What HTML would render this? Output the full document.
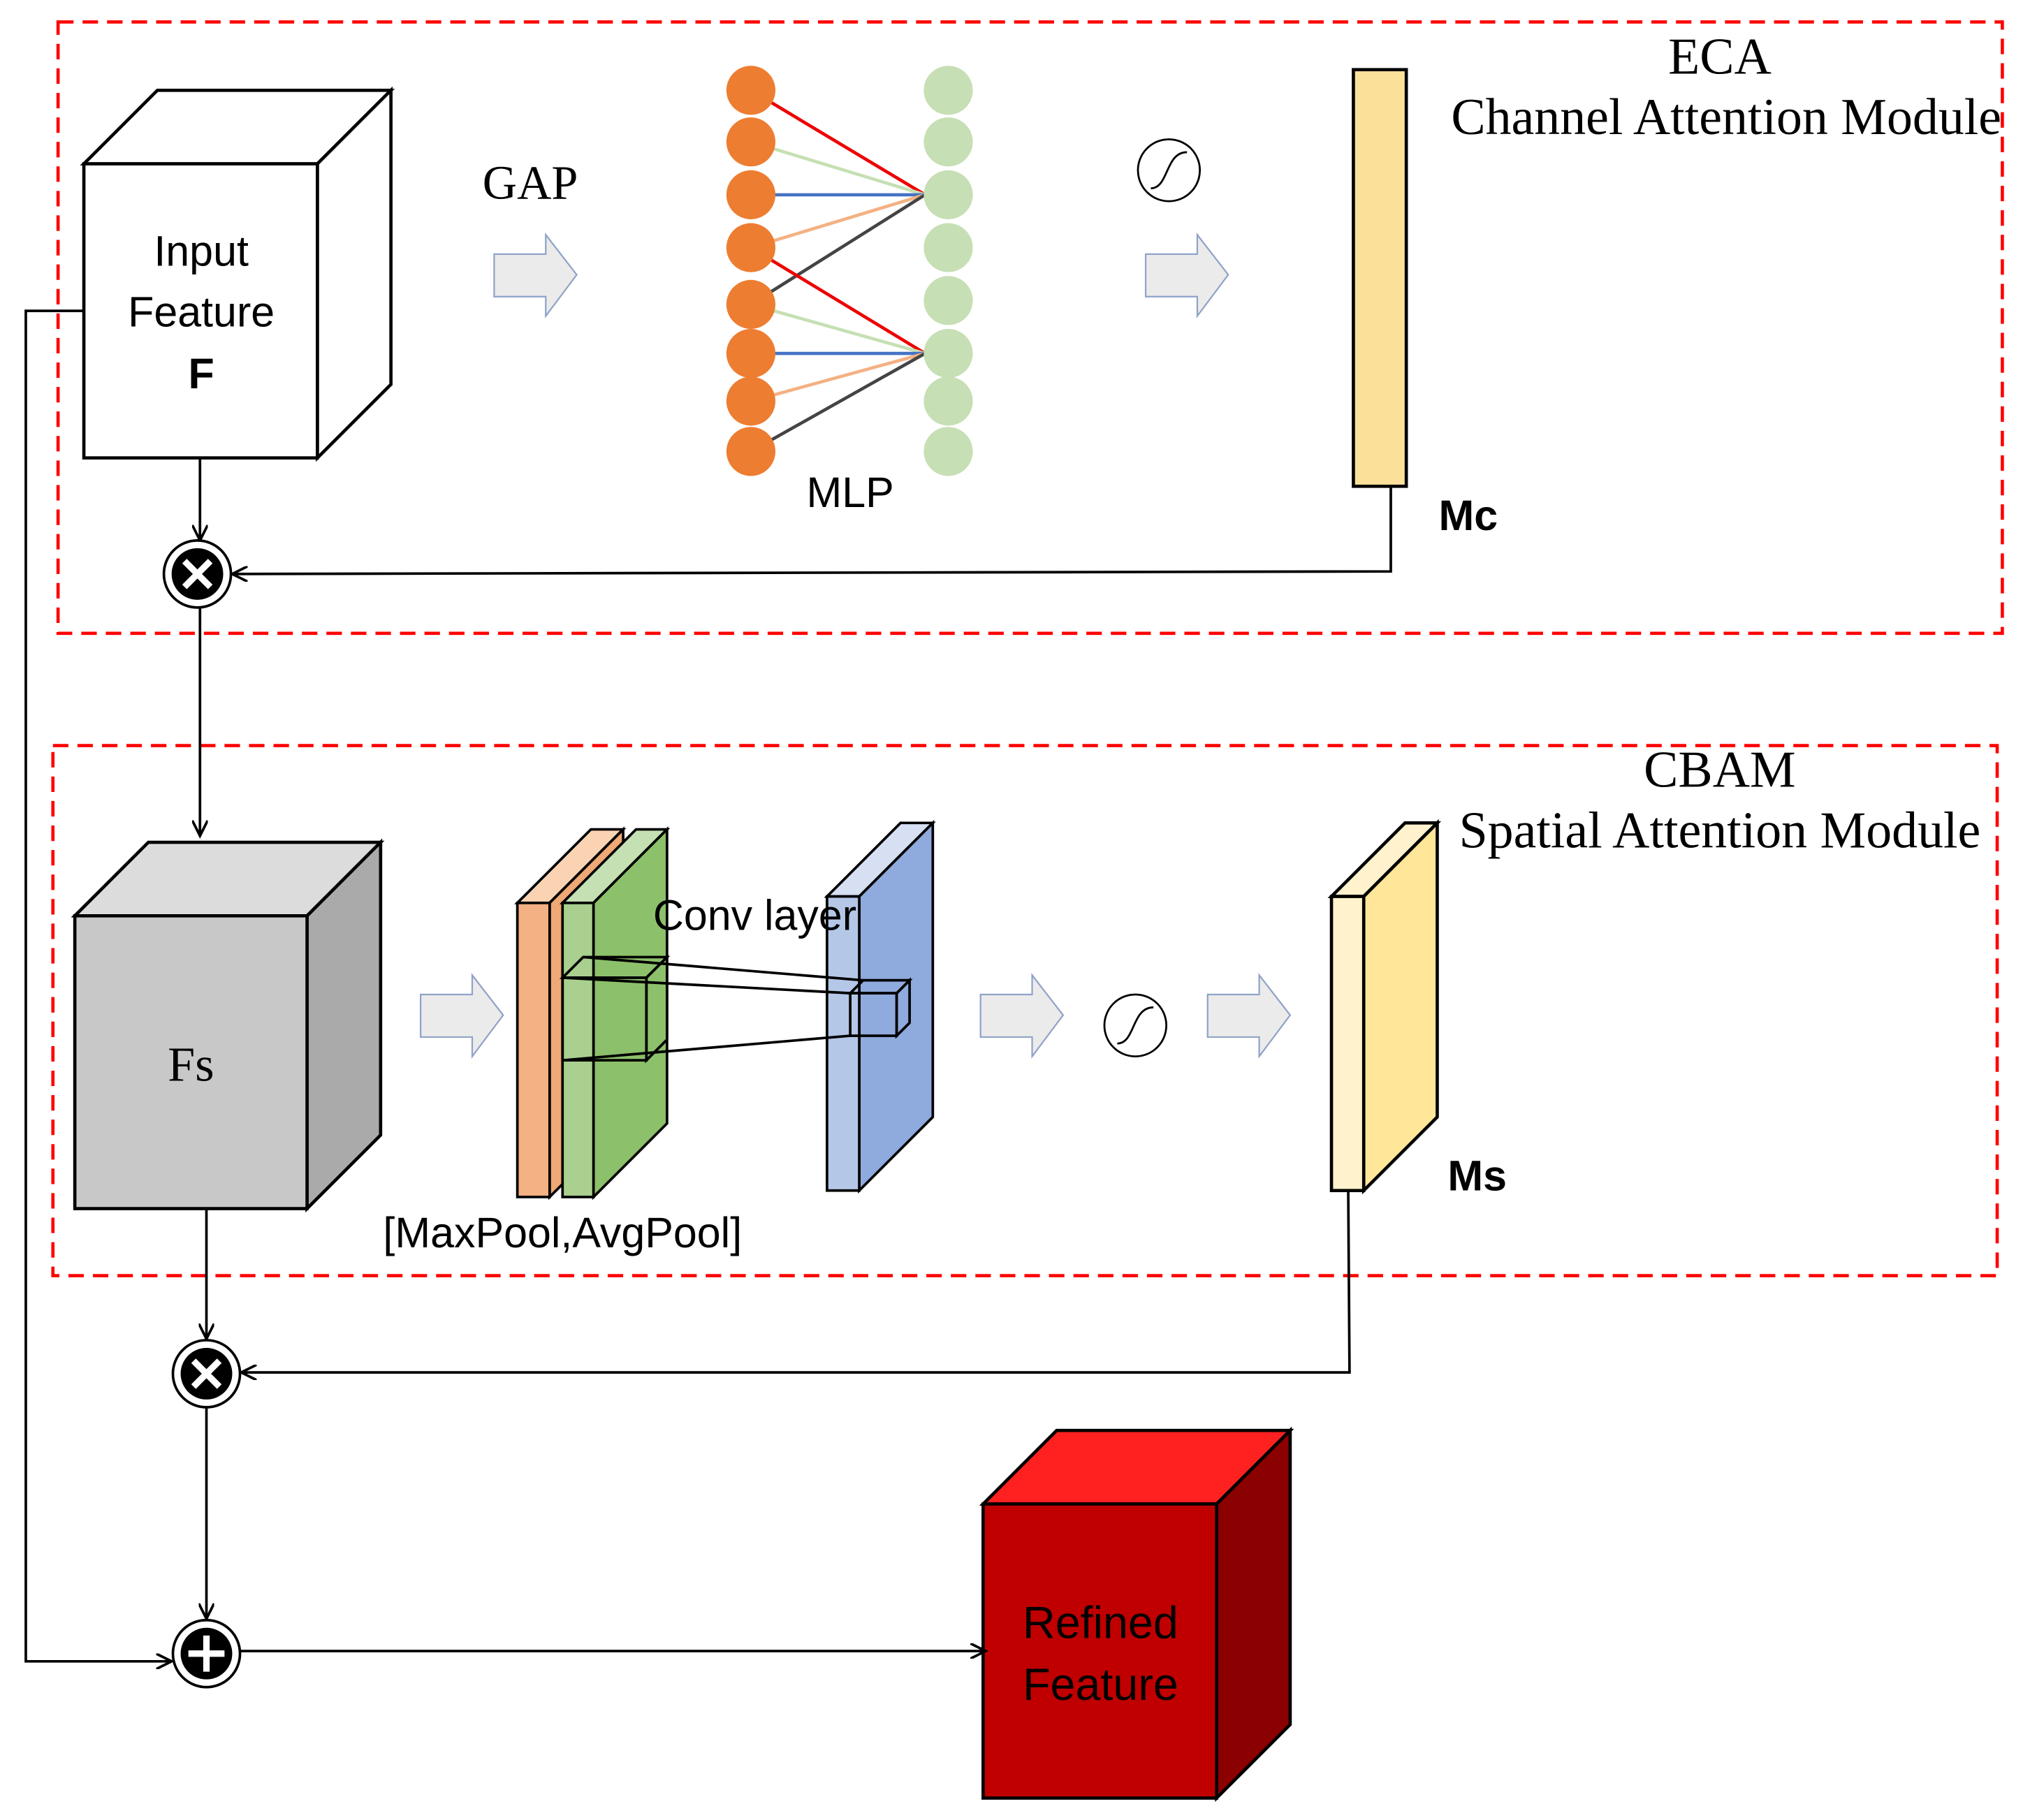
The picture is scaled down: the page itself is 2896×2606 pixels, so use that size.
<!DOCTYPE html>
<html><head><meta charset="utf-8"><style>html,body{margin:0;padding:0;background:#fff}svg{display:block}</style></head>
<body>
<svg width="2896" height="2606" viewBox="0 0 1568 1411" xmlns="http://www.w3.org/2000/svg">
<defs>
<marker id="ah" markerWidth="14" markerHeight="12" refX="12" refY="6" orient="auto" markerUnits="userSpaceOnUse">
<path d="M0,0 L12,6 L0,12" fill="none" stroke="#000" stroke-width="2"/></marker>
<g id="barrow"><path d="M0,15 H40 V0 L64,31 L40,63 V48 H0 Z" fill="#ebebeb" stroke="#8fa3c8" stroke-width="1.2"/></g>
</defs>
<rect width="1568" height="1411" fill="#fff"/>
<rect x="45" y="17" width="1507" height="474" fill="none" stroke="#f00" stroke-width="2.5" stroke-dasharray="12,7"/>
<rect x="41" y="578" width="1507" height="411" fill="none" stroke="#f00" stroke-width="2.5" stroke-dasharray="12,7"/>
<!-- input cube -->
<g stroke="#000" stroke-width="2.5" fill="#fff">
<polygon points="65,127 122,70 303,70 246,127"/>
<polygon points="246,127 303,70 303,298 246,355"/>
<rect x="65" y="127" width="181" height="228"/>
</g>
<use href="#barrow" x="383" y="182"/>
<use href="#barrow" x="888" y="182"/>
<use href="#barrow" x="326" y="756"/>
<use href="#barrow" x="760" y="756"/>
<use href="#barrow" x="936" y="756"/>
<g stroke-width="2.5">
<line x1="582" y1="70" x2="717" y2="151" stroke="#e00"/>
<line x1="582" y1="110" x2="717" y2="151" stroke="#c5e0b3"/>
<line x1="582" y1="151" x2="717" y2="151" stroke="#4472c4"/>
<line x1="582" y1="192" x2="717" y2="151" stroke="#f4b183"/>
<line x1="582" y1="236" x2="717" y2="151" stroke="#444"/>
<line x1="582" y1="192" x2="717" y2="274" stroke="#e00"/>
<line x1="582" y1="236" x2="717" y2="274" stroke="#c5e0b3"/>
<line x1="582" y1="274" x2="717" y2="274" stroke="#4472c4"/>
<line x1="582" y1="311" x2="717" y2="274" stroke="#f4b183"/>
<line x1="582" y1="350" x2="717" y2="274" stroke="#444"/>
</g>
<g fill="#ed7d31">
<circle cx="582" cy="70" r="19"/><circle cx="582" cy="110" r="19"/><circle cx="582" cy="151" r="19"/><circle cx="582" cy="192" r="19"/>
<circle cx="582" cy="236" r="19"/><circle cx="582" cy="274" r="19"/><circle cx="582" cy="311" r="19"/><circle cx="582" cy="350" r="19"/>
</g>
<g fill="#c6dfb4">
<circle cx="735" cy="70" r="19"/><circle cx="735" cy="110" r="19"/><circle cx="735" cy="151" r="19"/><circle cx="735" cy="192" r="19"/>
<circle cx="735" cy="233" r="19"/><circle cx="735" cy="274" r="19"/><circle cx="735" cy="311" r="19"/><circle cx="735" cy="350" r="19"/>
</g>
<g fill="#fff" stroke="#000" stroke-width="1.5">
<circle cx="906" cy="132" r="24"/><circle cx="880" cy="795" r="24"/>
</g>
<g fill="none" stroke="#000" stroke-width="1.5">
<path d="M892,146 C906,146 903,118 920,118"/>
<path d="M866,809 C880,809 877,781 894,781"/>
</g>
<rect x="1049" y="54" width="41" height="323" fill="#fbe09a" stroke="#000" stroke-width="2.5"/>
<g stroke="#000" stroke-width="2.5">
<polygon points="58,710 115,653 295,653 238,710" fill="#dcdcdc"/>
<polygon points="238,710 295,653 295,880 238,937" fill="#aaa"/>
<rect x="58" y="710" width="180" height="227" fill="#c8c8c8"/>
</g>
<g stroke="#000" stroke-width="2">
<polygon points="401,700 458,643 483,643 426,700" fill="#fbd3b3"/>
<polygon points="426,700 483,643 483,871 426,928" fill="#f0a875"/>
<rect x="401" y="700" width="25" height="228" fill="#f4b183"/>
<polygon points="436,700 493,643 517,643 460,700" fill="#c5e0b3"/>
<polygon points="460,700 517,643 517,871 460,928" fill="#8dc06a"/>
<rect x="436" y="700" width="24" height="228" fill="#a9d08e"/>
</g>
<g fill="none" stroke="#000" stroke-width="2">
<polygon points="436,758 452,742 517,742 501,758"/>
<polygon points="501,758 517,742 517,806 501,822"/>
<rect x="436" y="758" width="65" height="64"/>
</g>
<g stroke="#000" stroke-width="2">
<polygon points="641,695 698,638 723,638 666,695" fill="#d6e0f2"/>
<polygon points="666,695 723,638 723,866 666,923" fill="#8faadc"/>
<rect x="641" y="695" width="25" height="228" fill="#b4c7e7"/>
</g>
<g fill="none" stroke="#000" stroke-width="2">
<polygon points="659,770 669,760 705,760 695,770"/>
<polygon points="695,770 705,760 705,793 695,803"/>
<rect x="659" y="770" width="36" height="33"/>
<line x1="452" y1="742" x2="669" y2="760"/>
<line x1="436" y1="758" x2="659" y2="770"/>
<line x1="436" y1="822" x2="659" y2="803"/>
</g>
<g stroke="#000" stroke-width="2.5">
<polygon points="1032,695 1089,638 1114,638 1057,695" fill="#fff2cc"/>
<polygon points="1057,695 1114,638 1114,866 1057,923" fill="#ffe699"/>
<rect x="1032" y="695" width="25" height="228" fill="#fff2cc"/>
</g>
<g stroke="#000" stroke-width="2.5">
<polygon points="762,1166 819,1109 1000,1109 943,1166" fill="#ff2020"/>
<polygon points="943,1166 1000,1109 1000,1337 943,1394" fill="#8b0000"/>
<rect x="762" y="1166" width="181" height="228" fill="#c00000"/>
</g>
<g fill="none" stroke="#000" stroke-width="2">
<line x1="155" y1="355" x2="155" y2="419" marker-end="url(#ah)"/>
<polyline points="1078,377 1078,443 180,445" marker-end="url(#ah)"/>
<line x1="155" y1="471" x2="155" y2="648" marker-end="url(#ah)"/>
<polyline points="65,241 20,241 20,1288 133,1288" marker-end="url(#ah)"/>
<line x1="160" y1="937" x2="160" y2="1038" marker-end="url(#ah)"/>
<polyline points="1045,923 1046,1064 187,1064" marker-end="url(#ah)"/>
<line x1="160" y1="1091" x2="160" y2="1255" marker-end="url(#ah)"/>
<line x1="186" y1="1280" x2="764" y2="1280" marker-end="url(#ah)"/>
</g>
<g>
<circle cx="153" cy="445" r="26" fill="#fff" stroke="#000" stroke-width="2"/>
<circle cx="153" cy="445" r="20" fill="#000"/>
<path d="M143,435 L163,455 M163,435 L143,455" stroke="#fff" stroke-width="5"/>
<circle cx="160" cy="1065" r="26" fill="#fff" stroke="#000" stroke-width="2"/>
<circle cx="160" cy="1065" r="20" fill="#000"/>
<path d="M150,1055 L170,1075 M170,1055 L150,1075" stroke="#fff" stroke-width="5"/>
<circle cx="160" cy="1282" r="26" fill="#fff" stroke="#000" stroke-width="2"/>
<circle cx="160" cy="1282" r="20" fill="#000"/>
<path d="M146,1282 H174 M160,1268 V1296" stroke="#fff" stroke-width="5"/>
</g>
<!-- text on top -->
<g font-family="Liberation Serif, serif" font-size="40" text-anchor="middle">
<text x="1333" y="57">ECA</text>
<text x="1338" y="104">Channel Attention Module</text>
<text x="1333" y="610">CBAM</text>
<text x="1333" y="657">Spatial Attention Module</text>
<text x="411" y="154" font-size="37">GAP</text>
<text x="148" y="838" font-size="38">Fs</text>
</g>
<g font-family="Liberation Sans, sans-serif" font-size="33" text-anchor="middle">
<text x="156" y="206">Input</text>
<text x="156" y="253">Feature</text>
<text x="156" y="301" font-weight="bold">F</text>
<text x="659" y="393">MLP</text>
<text x="436" y="967">[MaxPool,AvgPool]</text>
<text x="585" y="721">Conv layer</text>
<text x="1138" y="411" font-weight="bold">Mc</text>
<text x="1145" y="923" font-weight="bold">Ms</text>
<text x="853" y="1270" font-size="35">Refined</text>
<text x="853" y="1318" font-size="35">Feature</text>
</g>
</svg>
</body></html>
